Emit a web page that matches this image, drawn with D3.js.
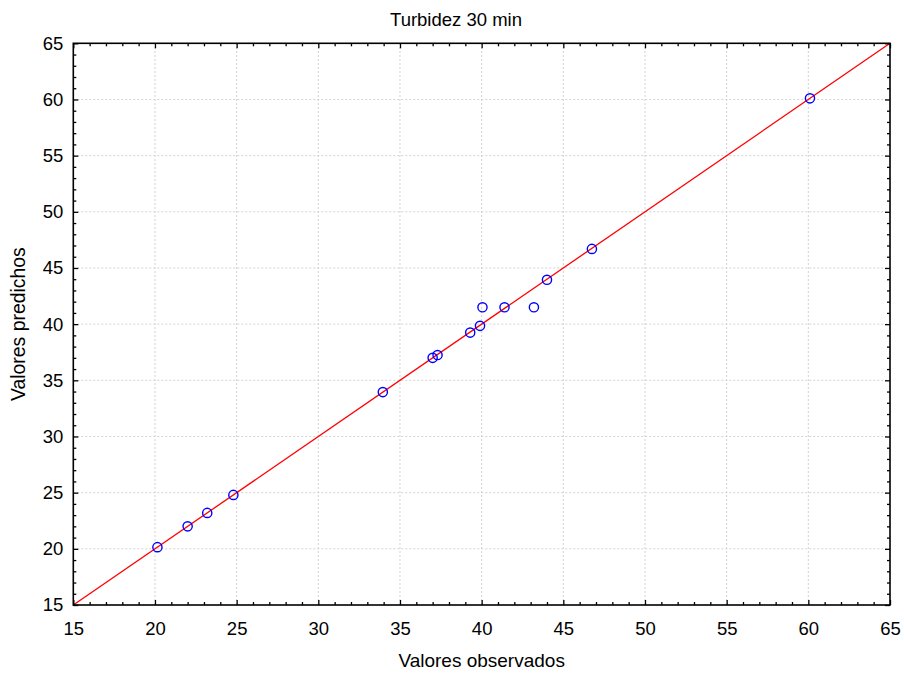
<!DOCTYPE html>
<html>
<head>
<meta charset="utf-8">
<script src="https://cdn.jsdelivr.net/npm/d3@7"></script>
<style>
  html, body { margin: 0; padding: 0; background: #fff; }
  svg { display: block; font-family: "Liberation Sans", Arial, sans-serif; }
</style>
</head>
<body>
<svg id="chart" width="904" height="673"></svg>
<script>
// Observed vs. predicted turbidity (30 min)
const observed  = [20.15, 22.0, 23.2, 24.8, 33.95, 37.0, 37.3, 39.3, 39.9, 40.05, 41.4, 43.2, 44.0, 46.75, 60.1];
const predicted = [20.15, 22.0, 23.2, 24.8, 33.95, 37.0, 37.25, 39.25, 39.85, 41.5, 41.5, 41.5, 43.95, 46.7, 60.1];
const xTicks = [15, 20, 25, 30, 35, 40, 45, 50, 55, 60, 65];
const yTicks = [15, 20, 25, 30, 35, 40, 45, 50, 55, 60, 65];
const minorTicks = d3.range(15, 66, 1);
const titleText = "Turbidez 30 min";
const xTitle = "Valores observados";
const yTitle = "Valores predichos";

const W = 904, H = 673;
const margin = { left: 73.3, right: 14, top: 43.3, bottom: 68 };
const svg = d3.select("#chart");

const x = d3.scaleLinear().domain([15, 65]).range([margin.left, W - margin.right]);
const y = d3.scaleLinear().domain([15, 65]).range([H - margin.bottom, margin.top]);

const x0 = x.range()[0], x1 = x.range()[1];
const y0 = y.range()[0], y1 = y.range()[1];

// dashed grid at major ticks
const grid = svg.append("g").attr("stroke", "#d2d2d2").attr("stroke-width", 1).attr("stroke-dasharray", "2,2");
grid.selectAll("line.gx").data(xTicks.slice(1, -1)).join("line")
  .attr("x1", d => x(d)).attr("x2", d => x(d)).attr("y1", y0).attr("y2", y1);
grid.selectAll("line.gy").data(yTicks.slice(1, -1)).join("line")
  .attr("y1", d => y(d)).attr("y2", d => y(d)).attr("x1", x0).attr("x2", x1);

// y = x reference line
svg.append("line")
  .attr("x1", x(15)).attr("y1", y(15)).attr("x2", x(65)).attr("y2", y(65))
  .attr("stroke", "#ff0000").attr("stroke-width", 1.3);

// inward ticks on all four sides
const isMajor = d => d % 5 === 0;
const tickLen = d => isMajor(d) ? 5 : 3;
const axisFont = 18.5;

function styleAxis(g) {
  g.select(".domain").remove();
  g.selectAll(".tick line").attr("stroke", "#000").attr("stroke-width", 1.3);
  g.selectAll(".tick text").attr("fill", "#000").attr("font-size", axisFont);
}

const axBottom = svg.append("g").attr("transform", `translate(0,${y0})`)
  .call(d3.axisBottom(x).tickValues(minorTicks).tickSizeInner(0).tickSizeOuter(0).tickFormat(d => isMajor(d) ? d : ""));
axBottom.selectAll(".tick line").attr("y2", d => -tickLen(d));
axBottom.selectAll(".tick text").attr("y", 17).attr("dy", "0.71em");
styleAxis(axBottom);

const axTop = svg.append("g").attr("transform", `translate(0,${y1})`)
  .call(d3.axisTop(x).tickValues(minorTicks).tickSizeInner(0).tickSizeOuter(0).tickFormat(""));
axTop.selectAll(".tick line").attr("y2", d => tickLen(d));
styleAxis(axTop);

const axLeft = svg.append("g").attr("transform", `translate(${x0},0)`)
  .call(d3.axisLeft(y).tickValues(minorTicks).tickSizeInner(0).tickSizeOuter(0).tickFormat(d => isMajor(d) ? d : ""));
axLeft.selectAll(".tick line").attr("x2", d => tickLen(d));
axLeft.selectAll(".tick text").attr("x", -10);
styleAxis(axLeft);

const axRight = svg.append("g").attr("transform", `translate(${x1},0)`)
  .call(d3.axisRight(y).tickValues(minorTicks).tickSizeInner(0).tickSizeOuter(0).tickFormat(""));
axRight.selectAll(".tick line").attr("x2", d => -tickLen(d));
styleAxis(axRight);

// frame
svg.append("rect")
  .attr("x", x0).attr("y", y1).attr("width", x1 - x0).attr("height", y0 - y1)
  .attr("fill", "none").attr("stroke", "#000").attr("stroke-width", 1.6);

// data points
const pts = observed.map((v, i) => ({ o: v, p: predicted[i] }));
svg.append("g").selectAll("circle").data(pts).join("circle")
  .attr("cx", d => x(d.o)).attr("cy", d => y(d.p)).attr("r", 4.6)
  .attr("fill", "none").attr("stroke", "#0000ff").attr("stroke-width", 1.4);

// titles
svg.append("text").attr("x", 456).attr("y", 25.5).attr("text-anchor", "middle")
  .attr("font-size", 18.5).attr("fill", "#000").text(titleText);
svg.append("text").attr("x", (x0 + x1) / 2).attr("y", 667).attr("text-anchor", "middle")
  .attr("font-size", 19).attr("fill", "#000").text(xTitle);
svg.append("text").attr("transform", `translate(25,${(y0 + y1) / 2}) rotate(-90)`)
  .attr("text-anchor", "middle").attr("font-size", 19.4).attr("fill", "#000").text(yTitle);
</script>
</body>
</html>
